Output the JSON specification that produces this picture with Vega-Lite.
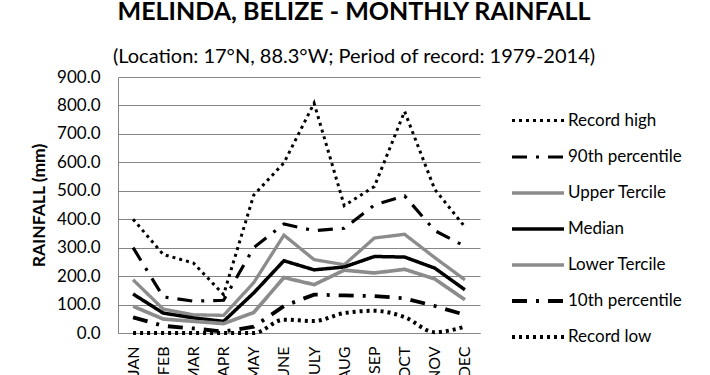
{
  "$schema": "https://vega.github.io/schema/vega-lite/v6.json",
  "width": 362,
  "height": 256,
  "autosize": {"type": "none"},
  "padding": {"left": 118, "top": 77, "right": 230, "bottom": 42},
  "background": "white",
  "config": {
    "font": "Lato",
    "view": {"stroke": null}
  },
  "title": {
    "text": "MELINDA, BELIZE - MONTHLY RAINFALL",
    "subtitle": "(Location: 17°N, 88.3°W; Period of record: 1979-2014)",
    "anchor": "middle",
    "frame": "group",
    "dx": 55,
    "offset": 1,
    "font": "Lato",
    "fontSize": 25,
    "fontWeight": "bold",
    "color": "black",
    "subtitleFont": "Lato",
    "subtitleFontSize": 20,
    "subtitleColor": "black",
    "subtitlePadding": 22
  },
  "data": {
    "values": [
      {"month": "JAN", "Record high": 400, "90th percentile": 300, "Upper Tercile": 187, "Median": 137, "Lower Tercile": 94, "10th percentile": 55, "Record low": 0},
      {"month": "FEB", "Record high": 276, "90th percentile": 127, "Upper Tercile": 84, "Median": 70, "Lower Tercile": 49, "10th percentile": 25, "Record low": 0},
      {"month": "MAR", "Record high": 246, "90th percentile": 112, "Upper Tercile": 64, "Median": 53, "Lower Tercile": 41, "10th percentile": 16, "Record low": 0},
      {"month": "APR", "Record high": 135, "90th percentile": 115, "Upper Tercile": 62, "Median": 41, "Lower Tercile": 33, "10th percentile": 5, "Record low": 0},
      {"month": "MAY", "Record high": 485, "90th percentile": 300, "Upper Tercile": 177, "Median": 141, "Lower Tercile": 72, "10th percentile": 22, "Record low": 0},
      {"month": "JUNE", "Record high": 598, "90th percentile": 383, "Upper Tercile": 344, "Median": 254, "Lower Tercile": 195, "10th percentile": 95, "Record low": 47},
      {"month": "JULY", "Record high": 808, "90th percentile": 360, "Upper Tercile": 258, "Median": 222, "Lower Tercile": 170, "10th percentile": 135, "Record low": 42},
      {"month": "AUG", "Record high": 448, "90th percentile": 368, "Upper Tercile": 240, "Median": 232, "Lower Tercile": 221, "10th percentile": 132, "Record low": 70},
      {"month": "SEP", "Record high": 515, "90th percentile": 450, "Upper Tercile": 334, "Median": 269, "Lower Tercile": 211, "10th percentile": 130, "Record low": 78},
      {"month": "OCT", "Record high": 779, "90th percentile": 482, "Upper Tercile": 347, "Median": 267, "Lower Tercile": 224, "10th percentile": 122, "Record low": 56},
      {"month": "NOV", "Record high": 505, "90th percentile": 360, "Upper Tercile": 265, "Median": 228, "Lower Tercile": 190, "10th percentile": 95, "Record low": 3},
      {"month": "DEC", "Record high": 373, "90th percentile": 305, "Upper Tercile": 187, "Median": 152, "Lower Tercile": 117, "10th percentile": 64, "Record low": 22}
    ]
  },
  "transform": [
    {"fold": ["Record high", "90th percentile", "Upper Tercile", "Median", "Lower Tercile", "10th percentile", "Record low"], "as": ["series", "value"]}
  ],
  "encoding": {
    "x": {
      "field": "month",
      "type": "ordinal",
      "sort": ["JAN", "FEB", "MAR", "APR", "MAY", "JUNE", "JULY", "AUG", "SEP", "OCT", "NOV", "DEC"],
      "scale": {"type": "point", "padding": 0.5},
      "axis": {
        "title": null,
        "labelAngle": 270,
        "labelAlign": "right",
        "labelBaseline": "middle",
        "labelFont": "Lato",
        "labelFontSize": 16,
        "labelColor": "black",
        "labelPadding": 13,
        "ticks": false,
        "domainColor": "#868686",
        "grid": false
      }
    },
    "y": {
      "field": "value",
      "type": "quantitative",
      "scale": {"domain": [0, 900], "nice": false},
      "axis": {
        "title": "RAINFALL (mm)",
        "titleFont": "Lato",
        "titleFontSize": 17.5,
        "titleFontWeight": "bold",
        "titleColor": "black",
        "titlePadding": 8,
        "values": [0, 100, 200, 300, 400, 500, 600, 700, 800, 900],
        "format": ".1f",
        "labelFont": "Lato",
        "labelFontSize": 17,
        "labelColor": "black",
        "labelPadding": 18,
        "ticks": false,
        "domainColor": "#868686",
        "gridColor": "#868686",
        "gridWidth": 1
      }
    },
    "color": {
      "field": "series",
      "type": "nominal",
      "scale": {
        "domain": ["Record high", "90th percentile", "Upper Tercile", "Median", "Lower Tercile", "10th percentile", "Record low"],
        "range": ["#000000", "#000000", "#8c8c8c", "#000000", "#8c8c8c", "#000000", "#000000"]
      },
      "legend": {
        "title": null,
        "orient": "none",
        "legendX": 392,
        "legendY": 16,
        "symbolType": "stroke",
        "symbolSize": 2704,
        "rowPadding": 0,
        "labelFont": "Lato",
        "labelFontSize": 17,
        "labelColor": "black",
        "labelOffset": 2
      }
    },
    "strokeDash": {
      "field": "series",
      "type": "nominal",
      "scale": {
        "domain": ["Record high", "90th percentile", "Upper Tercile", "Median", "Lower Tercile", "10th percentile", "Record low"],
        "range": [[3, 4], [15, 9, 3, 9], [1, 0], [1, 0], [1, 0], [15, 9, 3, 9], [3, 4]]
      },
      "legend": {
        "title": null,
        "orient": "none",
        "legendX": 392,
        "legendY": 16,
        "symbolType": "stroke",
        "symbolSize": 2704,
        "rowPadding": 0,
        "labelFont": "Lato",
        "labelFontSize": 17,
        "labelColor": "black",
        "labelOffset": 2
      }
    },
    "strokeWidth": {
      "field": "series",
      "type": "nominal",
      "scale": {
        "domain": ["Record high", "90th percentile", "Upper Tercile", "Median", "Lower Tercile", "10th percentile", "Record low"],
        "range": [3, 4, 4, 3.5, 4, 4, 3]
      },
      "legend": {
        "title": null,
        "orient": "none",
        "legendX": 392,
        "legendY": 16,
        "symbolType": "stroke",
        "symbolSize": 2704,
        "rowPadding": 0,
        "labelFont": "Lato",
        "labelFontSize": 17,
        "labelColor": "black",
        "labelOffset": 2
      }
    }
  },
  "layer": [
    {
      "transform": [{"filter": "datum.series !== 'Record low'"}],
      "mark": {"type": "line", "strokeJoin": "miter"}
    },
    {
      "transform": [{"filter": "datum.series === 'Record low'"}],
      "mark": {"type": "line", "interpolate": "monotone"}
    }
  ]
}
